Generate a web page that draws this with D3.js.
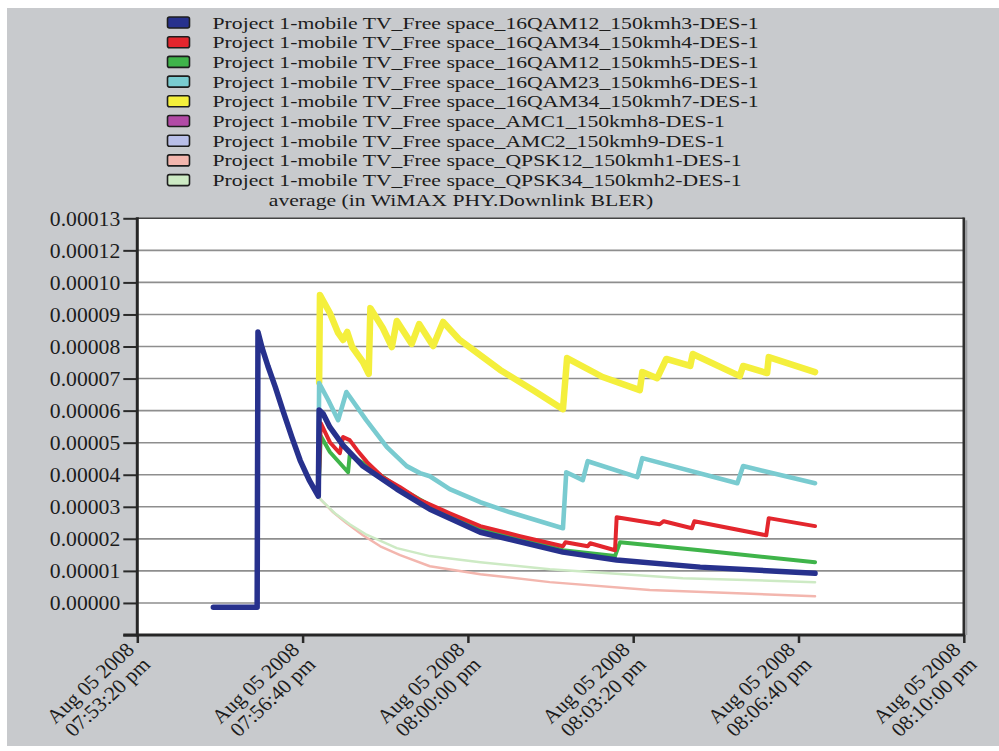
<!DOCTYPE html>
<html>
<head>
<meta charset="utf-8">
<script src="https://cdn.jsdelivr.net/npm/d3@7"></script>
<style>
  html, body { margin: 0; padding: 0; background: #ffffff; }
  svg { display: block; }
  text { font-family: "Liberation Serif", "Times New Roman", serif; fill: #1c1c1c; }
</style>
</head>
<body>
<svg id="chart" width="999" height="751"></svg>
<script>
// ---- series labels (legend order) ----
const seriesNames = [
  "Project 1-mobile TV_Free space_16QAM12_150kmh3-DES-1",
  "Project 1-mobile TV_Free space_16QAM34_150kmh4-DES-1",
  "Project 1-mobile TV_Free space_16QAM12_150kmh5-DES-1",
  "Project 1-mobile TV_Free space_16QAM23_150kmh6-DES-1",
  "Project 1-mobile TV_Free space_16QAM34_150kmh7-DES-1",
  "Project 1-mobile TV_Free space_AMC1_150kmh8-DES-1",
  "Project 1-mobile TV_Free space_AMC2_150kmh9-DES-1",
  "Project 1-mobile TV_Free space_QPSK12_150kmh1-DES-1",
  "Project 1-mobile TV_Free space_QPSK34_150kmh2-DES-1"
];
const seriesColors = ["#27318d", "#e3262d", "#3fb44a", "#79cbd0", "#f4ef3c",
                      "#b24aa6", "#b9bfe9", "#f3b6ae", "#cdeac4"];
const legendTitle = "average (in WiMAX PHY.Downlink BLER)";

// ---- samples: [seconds after 07:53:20 pm, average downlink BLER] ----
const kmh3 = [[92,-0.14e-5],[145,-0.14e-5],[146,8.85e-5],[151,8.33e-5],[158,7.74e-5],[167,7.05e-5],
  [176,6.30e-5],[187,5.42e-5],[197,4.66e-5],[208,4.01e-5],[219,3.49e-5],[220,6.30e-5],[225,6.17e-5],
  [233,5.74e-5],[249,5.15e-5],[273,4.47e-5],[314,3.72e-5],[354,3.06e-5],[415,2.31e-5],[515,1.66e-5],
  [580,1.40e-5],[681,1.17e-5],[820,0.97e-5]];
const kmh4 = [[219,3.49e-5],[222,5.87e-5],[233,5.25e-5],[245,4.89e-5],[249,5.42e-5],[257,5.32e-5],
  [266,4.99e-5],[278,4.60e-5],[297,4.11e-5],[318,3.78e-5],[342,3.36e-5],[378,2.93e-5],[415,2.51e-5],
  [463,2.18e-5],[515,1.85e-5],[518,1.98e-5],[545,1.85e-5],[548,1.95e-5],[578,1.72e-5],[580,2.80e-5],
  [632,2.57e-5],[637,2.67e-5],[671,2.44e-5],[674,2.67e-5],[761,2.21e-5],[764,2.77e-5],[820,2.51e-5]];
const kmh5 = [[219,3.49e-5],[222,5.45e-5],[233,4.93e-5],[245,4.57e-5],[255,4.27e-5],[257,4.83e-5],
  [273,4.57e-5],[314,3.81e-5],[354,3.19e-5],[415,2.44e-5],[515,1.72e-5],[578,1.53e-5],[584,1.98e-5],
  [681,1.72e-5],[820,1.33e-5]];
const kmh6 = [[219,3.49e-5],[220,7.18e-5],[231,6.63e-5],[243,5.97e-5],[253,6.89e-5],[277,5.97e-5],
  [302,5.09e-5],[326,4.47e-5],[342,4.24e-5],[354,4.14e-5],[378,3.72e-5],[415,3.29e-5],[451,2.96e-5],
  [515,2.44e-5],[519,4.27e-5],[539,4.01e-5],[545,4.63e-5],[605,4.11e-5],[611,4.73e-5],[726,3.91e-5],
  [733,4.47e-5],[820,3.91e-5]];
const kmh7 = [[220,7.21e-5],[221,10.06e-5],[233,9.47e-5],[243,8.82e-5],[249,8.59e-5],[254,8.85e-5],
  [260,8.36e-5],[273,7.87e-5],[280,7.48e-5],[282,9.63e-5],[297,8.98e-5],[308,8.36e-5],[314,9.21e-5],
  [332,8.46e-5],[341,9.11e-5],[358,8.39e-5],[370,9.18e-5],[390,8.59e-5],[439,7.61e-5],[479,6.95e-5],
  [515,6.33e-5],[520,8.00e-5],[563,7.38e-5],[608,6.95e-5],[611,7.54e-5],[629,7.34e-5],[640,7.97e-5],
  [669,7.74e-5],[672,8.13e-5],[729,7.41e-5],[733,7.74e-5],[762,7.51e-5],[764,8.03e-5],[820,7.54e-5]];
const kmh8 = [];
const kmh9 = [];
const kmh1 = [[219,3.46e-5],[237,2.96e-5],[253,2.61e-5],[273,2.21e-5],[294,1.85e-5],[318,1.56e-5],
  [354,1.20e-5],[415,0.94e-5],[499,0.68e-5],[620,0.42e-5],[820,0.22e-5]];
const kmh2 = [[219,3.46e-5],[239,2.93e-5],[257,2.57e-5],[276,2.25e-5],[314,1.79e-5],[354,1.53e-5],
  [415,1.33e-5],[499,1.10e-5],[660,0.81e-5],[820,0.68e-5]];

const seriesData = [kmh3, kmh4, kmh5, kmh6, kmh7, kmh8, kmh9, kmh1, kmh2];
const seriesWidths = [5.5, 4, 4, 4.6, 6.5, 4, 4, 2.5, 2.5];
const drawOrder = [7, 8, 5, 6, 4, 3, 2, 1, 0];

// ---- axes ----
const startTime = new Date(2008, 7, 5, 19, 53, 20);
const xTickSeconds = [0, 200, 400, 600, 800, 1000];
const yTickValues = [-1.047e-5, 0, 1.047e-5, 2.094e-5, 3.141e-5, 4.188e-5, 5.235e-5, 6.282e-5,
                     7.329e-5, 8.376e-5, 9.423e-5, 1.047e-4, 1.1517e-4, 1.2564e-4];

const toDate = s => new Date(startTime.getTime() + s * 1000);
const plot = { left: 137.3, right: 963.8, top: 218.3, bottom: 635 };
const stretch = 1.085;          // axis text width factor
const legendFont = 17.5;
const legendStretch = 1.24;     // legend text width factor

const x = d3.scaleTime()
  .domain([toDate(xTickSeconds[0]), toDate(xTickSeconds[xTickSeconds.length - 1])])
  .range([plot.left, plot.right]);
const y = d3.scaleLinear()
  .domain([yTickValues[0], yTickValues[yTickValues.length - 1]])
  .range([plot.bottom, plot.top]);

const svg = d3.select("#chart");

// page panel
svg.append("rect").attr("x", 7).attr("y", 8).attr("width", 992).attr("height", 738)
  .attr("fill", "#c8cacd");

// plot background
svg.append("rect").attr("x", plot.left).attr("y", plot.top)
  .attr("width", plot.right - plot.left).attr("height", plot.bottom - plot.top)
  .attr("fill", "#ffffff");

// horizontal grid
svg.append("g").selectAll("line")
  .data(yTickValues.slice(1, -1))
  .join("line")
  .attr("x1", plot.left).attr("x2", plot.right)
  .attr("y1", d => y(d)).attr("y2", d => y(d))
  .attr("stroke", "#8e8e8e").attr("stroke-width", 1.6);

// series lines
const line = d3.line().x(d => x(toDate(d[0]))).y(d => y(d[1]));
const lines = svg.append("g").attr("fill", "none")
  .attr("stroke-linejoin", "round").attr("stroke-linecap", "round");
drawOrder.forEach(i => {
  if (!seriesData[i].length) return;
  lines.append("path")
    .attr("d", line(seriesData[i]))
    .attr("stroke", seriesColors[i])
    .attr("stroke-width", seriesWidths[i]);
});

// frame: top and right borders
svg.append("line").attr("x1", plot.left).attr("x2", plot.right)
  .attr("y1", plot.top).attr("y2", plot.top)
  .attr("stroke", "#444").attr("stroke-width", 1.4);
svg.append("line").attr("x1", plot.right + 2.5).attr("x2", plot.right + 2.5)
  .attr("y1", plot.top + 2).attr("y2", plot.bottom)
  .attr("stroke", "#9a9c9f").attr("stroke-width", 2);
svg.append("line").attr("x1", plot.right).attr("x2", plot.right)
  .attr("y1", plot.top - 0.8).attr("y2", plot.bottom)
  .attr("stroke", "#2e2e2e").attr("stroke-width", 2.6);

// y axis
const fmt = d3.format(".5f");
const yAxis = svg.append("g").attr("transform", `translate(${plot.left},0)`)
  .call(d3.axisLeft(y).tickValues(yTickValues).tickSize(14).tickSizeOuter(0)
    .tickFormat(d => d < 0 ? "" : fmt(d)));
yAxis.select(".domain").remove();
yAxis.selectAll(".tick line").attr("stroke", "#2a2a2a").attr("stroke-width", 2);
yAxis.selectAll(".tick text")
  .attr("x", 0).attr("dy", "0.34em")
  .attr("transform", `translate(-17,0) scale(${stretch},1)`)
  .attr("font-size", 20).attr("font-family", null).attr("fill", "#1c1c1c");

// x axis
const xAxis = svg.append("g").attr("transform", `translate(0,${plot.bottom})`)
  .call(d3.axisBottom(x).tickValues(xTickSeconds.map(toDate)).tickSize(8)
    .tickSizeOuter(0).tickFormat(""));
xAxis.select(".domain").remove();
xAxis.selectAll(".tick line").attr("stroke", "#2a2a2a").attr("stroke-width", 2.5);

// axis lines
svg.append("line").attr("x1", plot.left).attr("x2", plot.left)
  .attr("y1", plot.top - 1).attr("y2", plot.bottom + 1.5)
  .attr("stroke", "#262626").attr("stroke-width", 3);
svg.append("line").attr("x1", plot.left - 14).attr("x2", plot.right + 1.3)
  .attr("y1", plot.bottom).attr("y2", plot.bottom)
  .attr("stroke", "#262626").attr("stroke-width", 3);

// rotated date/time labels
const dateFmt = d3.timeFormat("%b %d %Y");
const timeFmt = d => d3.timeFormat("%I:%M:%S %p")(d).toLowerCase();
const xl = svg.append("g").selectAll("g")
  .data(xTickSeconds.map(toDate))
  .join("g")
  .attr("transform", d => `translate(${x(d) - 2},${plot.bottom + 16}) scale(${stretch},1) rotate(-45)`);
xl.append("text").attr("text-anchor", "end").attr("font-size", 20).text(d => dateFmt(d));
xl.append("text").attr("text-anchor", "end").attr("font-size", 20).attr("y", 21).text(d => timeFmt(d));

// legend
const legend = svg.append("g");
const rowY = i => 22.5 + i * 19.7;
seriesNames.forEach((name, i) => {
  legend.append("rect")
    .attr("x", 167.5).attr("y", rowY(i) - 5.5).attr("width", 22).attr("height", 11)
    .attr("rx", 2).attr("fill", seriesColors[i])
    .attr("stroke", "#1e1e1e").attr("stroke-width", 1.6);
  legend.append("text")
    .attr("transform", `translate(212.5,${rowY(i) + 6}) scale(${legendStretch},1)`)
    .attr("font-size", legendFont).text(name);
});
legend.append("text")
  .attr("transform", `translate(461,${rowY(9) + 6}) scale(${legendStretch},1)`)
  .attr("text-anchor", "middle").attr("font-size", legendFont).text(legendTitle);
</script>
</body>
</html>
